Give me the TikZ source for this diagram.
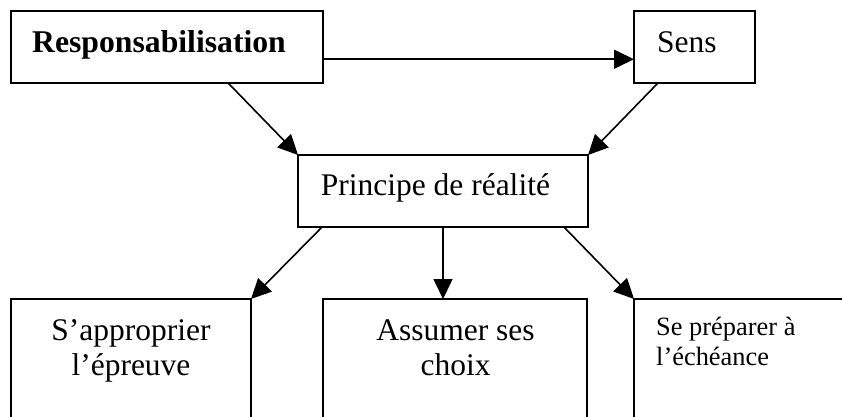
\documentclass[tikz,border=0pt]{standalone}
\usepackage{fontspec}
\setmainfont{Liberation Serif}
\usetikzlibrary{arrows.meta,calc}
\begin{document}
\begin{tikzpicture}[x=1pt,y=-1pt,
  box/.style={draw=black,line width=1.7pt,rectangle,inner sep=0pt,outer sep=0pt,anchor=north west},
  conn/.style={draw=black,line width=1.6pt,-{Triangle[length=20pt,width=19pt]}},
  big/.style={font=\fontsize{31.5}{35}\selectfont,inner sep=0pt},
  bigb/.style={font=\fontsize{31.7}{36}\selectfont\bfseries,inner sep=0pt},
  small/.style={font=\fontsize{26.4}{30}\selectfont,inner sep=0pt}]
\useasboundingbox (0,0) rectangle (842,416);
\clip (0,0) rectangle (842,416);
% boxes
\node[box,minimum width=312pt,minimum height=72pt] (resp) at (11,11) {};
\node[box,minimum width=121pt,minimum height=72pt] (sens) at (634,11) {};
\node[box,minimum width=290pt,minimum height=72pt] (princ) at (298,155) {};
\node[box,minimum width=240pt,minimum height=140pt] (appr) at (11,299) {};
\node[box,minimum width=264pt,minimum height=140pt] (assum) at (323,299) {};
\node[box,minimum width=240pt,minimum height=140pt] (prep) at (634,299) {};
% texts
\node[bigb,anchor=base west] (tresp) at (32,52) {Responsabilisation};
\node[big,anchor=base west] (tsens) at (657,52) {Sens};
\node[big,anchor=base west] (tprinc) at (320.6,195) {Principe de réalité};
\node[big,anchor=base] (tappr1) at (131,340) {S’approprier};
\node[big,anchor=base] (tappr2) at (131,375) {l’épreuve};
\node[big,anchor=base] (tassum1) at (455.5,340) {Assumer ses};
\node[big,anchor=base] (tassum2) at (455.5,375) {choix};
\node[small,anchor=base west] (tprep1) at (656,335) {Se préparer à};
\node[small,anchor=base west] (tprep2) at (656,365) {l’échéance};
% connectors
\coordinate (rs) at ($(resp.north east)!0.67!(resp.south east)$);
\draw[conn] (rs) -- (rs -| sens.west);
\draw[conn] ($(resp.south west)!0.696!(resp.south east)$) -- (princ.north west);
\draw[conn] ($(sens.south west)!0.198!(sens.south east)$) -- (princ.north east);
\draw[conn] ($(princ.south west)!0.083!(princ.south east)$) -- (appr.north east);
\draw[conn] (princ.south) -- (princ.south |- assum.north);
\draw[conn] ($(princ.south west)!0.917!(princ.south east)$) -- (prep.north west);
\end{tikzpicture}
\end{document}
